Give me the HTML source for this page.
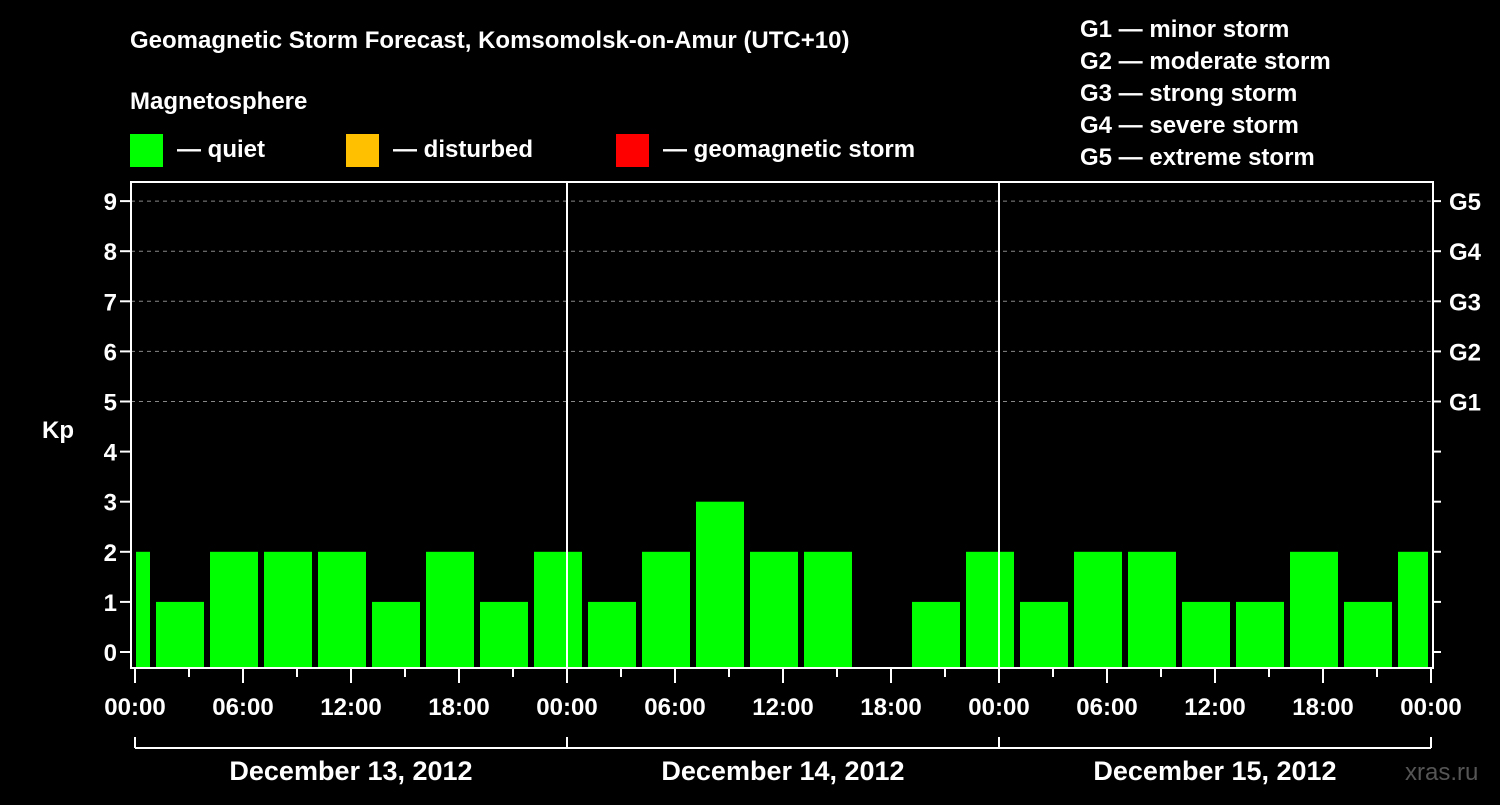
<!DOCTYPE html>
<html><head><meta charset="utf-8"><style>
body{margin:0;background:#000;width:1500px;height:800px;overflow:hidden}
svg text{font-family:"Liberation Sans",sans-serif;font-weight:bold;fill:#fff}
</style></head><body>
<svg id="c" width="1500" height="800" xmlns="http://www.w3.org/2000/svg">
<text x="130" y="48" font-size="24">Geomagnetic Storm Forecast, Komsomolsk-on-Amur (UTC+10)</text>
<text x="130" y="109" font-size="24">Magnetosphere</text>
<g><rect x="130" y="134" width="33" height="33" fill="#00ff00"/><text x="177" y="157" font-size="24">— quiet</text></g>
<g><rect x="346" y="134" width="33" height="33" fill="#ffc000"/><text x="393" y="157" font-size="24">— disturbed</text></g>
<g><rect x="616" y="134" width="33" height="33" fill="#ff0000"/><text x="663" y="157" font-size="24">— geomagnetic storm</text></g>
<g font-size="24">
<text x="1080" y="37">G1 — minor storm</text><text x="1080" y="69">G2 — moderate storm</text><text x="1080" y="101">G3 — strong storm</text><text x="1080" y="133">G4 — severe storm</text><text x="1080" y="165">G5 — extreme storm</text></g>
<text x="42" y="438" font-size="24">Kp</text>
<text x="1405" y="780" font-size="24" fill="#555" style="fill:#555;font-weight:normal">xras.ru</text>
<g id="grid"></g><g id="bars"></g><g id="axes"></g>
</svg>
<script>
const kpValues=[2,1,2,2,2,1,2,1,2,1,2,3,2,2,0,1,2,1,2,2,1,1,2,1,2];
const yTicks=[0,1,2,3,4,5,6,7,8,9];
const gLabels=["G1","G2","G3","G4","G5"];
const timeLabels=["00:00","06:00","12:00","18:00","00:00","06:00","12:00","18:00","00:00","06:00","12:00","18:00","00:00"];
const dayLabels=["December 13, 2012","December 14, 2012","December 15, 2012"];
const startHour=-2;
const NS="http://www.w3.org/2000/svg";
const X0=135,PX=18,PL=131,PR=1433,PT=182,PB=668;
const x=h=>X0+h*PX, y=v=>652-v*50.1;
function mk(p,t,a){const e=document.createElementNS(NS,t);for(const k in a)e.setAttribute(k,a[k]);p.appendChild(e);return e;}
const grid=document.getElementById('grid'),bars=document.getElementById('bars'),ax=document.getElementById('axes');
yTicks.filter(v=>v>=5).forEach(v=>{const l=mk(grid,'line',{x1:PL,x2:PR,y1:y(v),y2:y(v),stroke:'#888','stroke-dasharray':'4 4'});

});
kpValues.forEach((v,i)=>{if(v<=0)return;let a=x(startHour+3*i)+3,b=x(startHour+3*i+3)-3;a=Math.max(a,PL+5);b=Math.min(b,PR-5);
const r=mk(bars,'rect',{x:a,y:y(v),width:b-a,height:PB-y(v),fill:'#00ff00'});

});
mk(ax,'rect',{x:PL,y:PT,width:PR-PL,height:PB-PT,fill:'none',stroke:'#fff','stroke-width':2});
[1,2].forEach(d=>mk(ax,'line',{x1:x(24*d),x2:x(24*d),y1:PT,y2:PB,stroke:'#fff','stroke-width':2}));
yTicks.forEach(v=>{mk(ax,'line',{x1:PL-11,x2:PL,y1:y(v),y2:y(v),stroke:'#fff','stroke-width':2});
mk(ax,'line',{x1:PR,x2:PR+8,y1:y(v),y2:y(v),stroke:'#fff','stroke-width':2});
const t=mk(ax,'text',{x:PL-14,y:y(v)+9,'font-size':24,'text-anchor':'end'});t.textContent=v;

});
gLabels.forEach((g,i)=>{const t=mk(ax,'text',{x:1449,y:y(5+i)+9,'font-size':24});t.textContent=g;

});
for(let h=0;h<=72;h+=3){mk(ax,'line',{x1:x(h),x2:x(h),y1:PB,y2:PB+(h%6?9:15),stroke:'#fff','stroke-width':2});}
timeLabels.forEach((s,i)=>{const t=mk(ax,'text',{x:x(6*i),y:715,'font-size':24,'text-anchor':'middle'});t.textContent=s;

});
mk(ax,'line',{x1:x(0),x2:x(72),y1:748,y2:748,stroke:'#fff','stroke-width':2});
for(let d=0;d<=3;d++)mk(ax,'line',{x1:x(24*d),x2:x(24*d),y1:737,y2:748,stroke:'#fff','stroke-width':2});
dayLabels.forEach((s,i)=>{const t=mk(ax,'text',{x:x(24*i+12),y:780,'font-size':27,'text-anchor':'middle'});t.textContent=s;

});
</script>
</body></html>
